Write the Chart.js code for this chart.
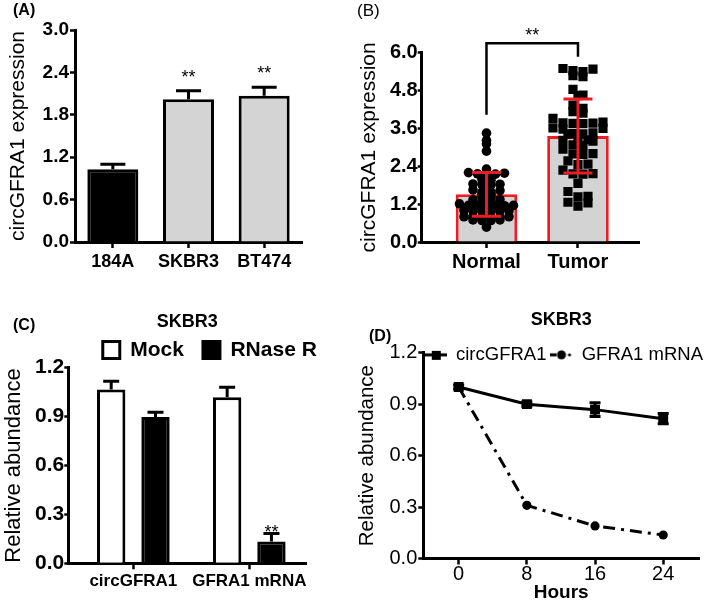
<!DOCTYPE html>
<html><head><meta charset="utf-8">
<script src="https://cdn.jsdelivr.net/npm/chart.js@4.4.0/dist/chart.umd.min.js"></script>
<style>
html,body{margin:0;padding:0;background:#fff;}
body{width:709px;height:604px;position:relative;overflow:hidden;font-family:'Liberation Sans',Arial,sans-serif;}
canvas{position:absolute;}
.lbl{position:absolute;font-size:16px;font-weight:bold;color:#000;line-height:1;white-space:nowrap;}
</style></head><body>
<canvas id="cA" width="354" height="300" style="left:0px;top:0px"></canvas>
<canvas id="cB" width="355" height="300" style="left:354px;top:0px"></canvas>
<canvas id="cC" width="354" height="304" style="left:0px;top:300px"></canvas>
<canvas id="cD" width="355" height="304" style="left:354px;top:300px"></canvas>
<div class="lbl" style="left:13px;top:2px">(A)</div>
<div class="lbl" style="left:357px;top:2px;font-weight:normal;font-size:17px">(B)</div>
<div class="lbl" style="left:13px;top:317px">(C)</div>
<div class="lbl" style="left:369px;top:328px">(D)</div>
<script>
// ---------- DATA ----------
// (A) circGFRA1 expression in cell lines
const cellLines = ['184A', 'SKBR3', 'BT474'];
const cellExpr = [1.03, 2.02, 2.07];
const cellErr = [0.07, 0.12, 0.12];
const cellSig = ['', '**', '**'];

// (B) circGFRA1 expression in tissues
const tissueGroups = ['Normal', 'Tumor'];
const tissueMean = [1.51, 3.36];
const tissueSD = [0.69, 1.17];
const normalValues = [3.45, 3.22, 3.11, 2.88, 2.31, 2.2, 2.18, 2.16, 2.15, 2.14, 1.98, 1.96,
  1.84, 1.83, 1.82, 1.81, 1.65, 1.63, 1.58, 1.58, 1.51, 1.51, 1.42, 1.42, 1.34, 1.34,
  1.27, 1.27, 1.21, 1.16, 1.16, 1.15, 1.15, 1.14, 1.14, 1.0, 0.99, 0.98, 0.98, 0.97, 0.96,
  0.8, 0.8, 0.79, 0.79, 0.78, 0.78, 0.7, 0.7, 0.68, 0.68, 0.47];
const tumorValues = [5.5, 5.48, 5.43, 5.4, 5.27, 5.24, 4.84, 4.66, 4.64, 4.34, 4.24, 4.13,
  4.08, 3.92, 3.8, 3.78, 3.77, 3.76, 3.75, 3.62, 3.6, 3.58, 3.46, 3.44, 3.43, 3.42, 3.24,
  3.23, 3.22, 3.2, 3.08, 3.06, 2.94, 2.8, 2.79, 2.78, 2.57, 2.47, 2.45, 2.28, 2.17, 2.16,
  2.15, 1.86, 1.6, 1.45, 1.43, 1.26, 1.24, 1.14];
const tissueSig = '**';

// (C) RNase R resistance, SKBR3
const rnaTargets = ['circGFRA1', 'GFRA1 mRNA'];
const mockValues = [1.067, 1.018];
const mockErr = [0.05, 0.062];
const rnaseValues = [0.898, 0.133];
const rnaseErr = [0.028, 0.05];
const rnaseSig = ['', '**'];

// (D) time course, SKBR3
const hours = [0, 8, 16, 24];
const circValues = [1.0, 0.9, 0.868, 0.815];
const circErr = [0.012, 0.012, 0.04, 0.03];
const mrnaValues = [1.0, 0.31, 0.19, 0.137];
const mrnaErr = [0, 0.01, 0.008, 0.008];

// ---------- COMMON ----------
const FONT = "'Liberation Sans', Arial, sans-serif";
Chart.defaults.font.family = FONT;
Chart.defaults.color = '#000';
Chart.defaults.animation = false;
Chart.defaults.plugins.legend.display = false;
Chart.defaults.plugins.tooltip.enabled = false;
Chart.defaults.events = [];

function yAxis(o) {
  return {
    min: o.min, max: o.max,
    afterFit: s => { s.width = o.width; },
    ticks: { stepSize: o.step, callback: v => Number(v).toFixed(1), font: o.tickFont, padding: o.tickPad, color: '#000' },
    grid: { drawOnChartArea: false, drawTicks: true, tickLength: o.tickLen, tickWidth: 2.5, tickColor: '#000', color: '#000' },
    border: { display: true, color: '#000', width: 3 },
    title: { display: true, text: o.title, font: o.titleFont, padding: { top: o.titlePad, bottom: 0 }, color: '#000' }
  };
}
function xLinear(o) {
  return {
    type: 'linear', min: o.min, max: o.max, offset: false,
    afterBuildTicks: s => { s.ticks = o.ticks.map(v => ({ value: v })); },
    afterFit: s => { s.height = o.height; },
    ticks: { callback: (v, i) => o.labels[i], font: o.tickFont, padding: o.tickPad, color: '#000', autoSkip: false, maxRotation: 0 },
    grid: { offset: false, drawOnChartArea: false, drawTicks: true, tickLength: 6, tickWidth: 2.5, tickColor: '#000', color: '#000' },
    border: { display: true, color: '#000', width: 3 },
    title: o.title ? { display: true, text: o.title, font: o.titleFont, padding: { top: 0, bottom: 0 }, color: '#000' } : { display: false }
  };
}

const errorBarPlugin = {
  id: 'errbars',
  afterDatasetsDraw(chart, args, opts) {
    const ctx = chart.ctx;
    (opts.sets || []).forEach(cfg => {
      const meta = chart.getDatasetMeta(cfg.dataset);
      const ys = chart.scales[meta.yAxisID];
      ctx.save();
      ctx.strokeStyle = cfg.color; ctx.lineWidth = cfg.lineWidth; ctx.lineCap = 'butt';
      meta.data.forEach((el, i) => {
        const v = cfg.values[i], e = cfg.errors[i];
        const x = el.x;
        const yTop = ys.getPixelForValue(v + e);
        const yBot = cfg.both ? ys.getPixelForValue(v - e) : ys.getPixelForValue(v);
        if (e) {
          ctx.beginPath();
          ctx.moveTo(x, yBot); ctx.lineTo(x, yTop);
          ctx.moveTo(x - cfg.cap / 2, yTop); ctx.lineTo(x + cfg.cap / 2, yTop);
          if (cfg.both) { ctx.moveTo(x - cfg.cap / 2, yBot); ctx.lineTo(x + cfg.cap / 2, yBot); }
          ctx.stroke();
        }
        if (cfg.marks && cfg.marks[i]) {
          ctx.fillStyle = '#000'; ctx.font = cfg.markFont; ctx.textAlign = 'center'; ctx.textBaseline = 'alphabetic';
          ctx.fillText(cfg.marks[i], x, yTop + cfg.markOffset);
        }
      });
      ctx.restore();
    });
  }
};

const bracketPlugin = {
  id: 'bracket',
  afterDatasetsDraw(chart, args, o) {
    if (!o || o.from === undefined) return;
    const ctx = chart.ctx, xs = chart.scales.x, ys = chart.scales.y;
    const x1 = xs.getPixelForValue(o.from), x2 = xs.getPixelForValue(o.to);
    const yl = ys.getPixelForValue(o.level);
    const y1 = ys.getPixelForValue(o.ends[0]), y2 = ys.getPixelForValue(o.ends[1]);
    ctx.save();
    ctx.strokeStyle = '#000'; ctx.lineWidth = 2.5; ctx.lineJoin = 'miter';
    ctx.beginPath(); ctx.moveTo(x1, y1); ctx.lineTo(x1, yl); ctx.lineTo(x2, yl); ctx.lineTo(x2, y2); ctx.stroke();
    ctx.fillStyle = '#000'; ctx.font = o.font; ctx.textAlign = 'center'; ctx.textBaseline = 'alphabetic';
    ctx.fillText(o.text, (x1 + x2) / 2, yl + o.textOffset);
    ctx.restore();
  }
};

// moves the legend box sideways and enlarges its clip box after layout
const legendShiftPlugin = {
  id: 'legendShift',
  afterLayout(chart, args, o) {
    const lg = chart.legend;
    if (!lg || !o) return;
    const dx = o.dx || 0;
    lg.left += dx; lg.right += dx;
    if (o.height) { lg.bottom = lg.top + o.height; lg.height = o.height; }
  }
};

// ---------- (A) ----------
new Chart(document.getElementById('cA'), {
  type: 'bar',
  data: {
    labels: cellLines,
    datasets: [{
      data: cellExpr,
      backgroundColor: ['#000000', '#d4d4d4', '#d4d4d4'],
      borderColor: '#000', borderWidth: 3,
      categoryPercentage: 1, barPercentage: 0.674
    }]
  },
  options: {
    responsive: false,
    layout: { padding: { top: 30, right: 52, bottom: 0, left: 0 } },
    scales: {
      x: {
        afterFit: s => { s.height = 58; },
        ticks: { font: { size: 18, weight: 'bold', lineHeight: 1 }, padding: 5, color: '#000' },
        grid: { offset: false, drawOnChartArea: false, drawTicks: true, tickLength: 6, tickWidth: 2.5, tickColor: '#000', color: '#000' },
        border: { display: true, color: '#000', width: 3 }
      },
      y: yAxis({ min: 0, max: 3, step: 0.6, width: 75, tickLen: 5, tickPad: 1,
        tickFont: { size: 19, weight: 'bold' }, title: 'circGFRA1 expression',
        titleFont: { size: 21 }, titlePad: 6 })
    },
    plugins: {
      errbars: { sets: [{ dataset: 0, values: cellExpr, errors: cellErr, both: false, color: '#000', lineWidth: 3, cap: 25,
        marks: cellSig, markFont: "18px " + FONT, markOffset: -8 }] }
    }
  },
  plugins: [errorBarPlugin]
});

// ---------- (B) ----------
// column-scatter layout: points with close values share a row and are spread sideways
function rowSwarm(values, center, xScale, yScale, rowPx, stepPx) {
  const cx = xScale.getPixelForValue(center);
  const idx = values.map((v, i) => i).sort((a, b) => values[b] - values[a]);
  const rows = [];
  let cur = null;
  for (const i of idx) {
    const py = yScale.getPixelForValue(values[i]);
    if (!cur || py - cur.y0 > rowPx) { cur = { y0: py, items: [] }; rows.push(cur); }
    cur.items.push(i);
  }
  const xs = new Array(values.length);
  rows.forEach(r => {
    const n = r.items.length;
    const slots = [];
    for (let k = 0; k < n; k++) slots.push((k - (n - 1) / 2) * stepPx);
    slots.sort((a, b) => Math.abs(b) - Math.abs(a) || a - b);
    r.items.forEach((i, k) => { xs[i] = xScale.getValueForPixel(cx + slots[k]); });
  });
  return xs;
}

const chartB = new Chart(document.getElementById('cB'), {
  type: 'bar',
  data: {
    datasets: [
      { type: 'bar', data: tissueMean.map((m, i) => ({ x: i, y: m })), backgroundColor: '#d3d3d3',
        borderColor: '#ec1c24', borderWidth: 3, categoryPercentage: 1, barPercentage: 0.673, order: 3 },
      { type: 'scatter', data: normalValues.map(v => ({ x: 0, y: v })), pointStyle: 'circle', pointRadius: 4.8,
        backgroundColor: '#000', borderWidth: 0, order: 1 },
      { type: 'scatter', data: tumorValues.map(v => ({ x: 1, y: v })), pointStyle: 'rect', pointRadius: 6.5,
        backgroundColor: '#000', borderWidth: 0, order: 1 }
    ]
  },
  options: {
    responsive: false,
    layout: { padding: { top: 52.7, right: 70, bottom: 0, left: 0 } },
    scales: {
      x: xLinear({ min: -0.708, max: 1.667, ticks: [0, 1], labels: tissueGroups, height: 58,
        tickFont: { size: 20, weight: 'bold', lineHeight: 1 }, tickPad: 4.5 }),
      y: yAxis({ min: 0, max: 6, step: 1.2, width: 67.7, tickLen: 4, tickPad: 0,
        tickFont: { size: 20, weight: 'bold' }, title: 'circGFRA1 expression',
        titleFont: { size: 21 }, titlePad: 3 })
    },
    plugins: {
      errbars: { sets: [{ dataset: 0, values: tissueMean, errors: tissueSD, both: true, color: '#ec1c24', lineWidth: 3, cap: 29 }] },
      bracket: { from: 0, to: 1, level: 6.3, ends: [4.03, 5.87], text: tissueSig, font: "18px " + FONT, textOffset: -2 }
    }
  },
  plugins: [errorBarPlugin, bracketPlugin]
});
const swN = rowSwarm(normalValues, 0, chartB.scales.x, chartB.scales.y, 2.5, 9);
const swT = rowSwarm(tumorValues, 1, chartB.scales.x, chartB.scales.y, 6, 10);
chartB.data.datasets[1].data = normalValues.map((v, i) => ({ x: swN[i], y: v }));
chartB.data.datasets[2].data = tumorValues.map((v, i) => ({ x: swT[i], y: v }));
chartB.update('none');

// ---------- (C) ----------
new Chart(document.getElementById('cC'), {
  type: 'bar',
  data: {
    datasets: [
      { label: 'Mock', data: mockValues.map((v, i) => ({ x: i, y: v })), backgroundColor: '#ffffff',
        borderColor: '#000', borderWidth: 3, categoryPercentage: 0.764, barPercentage: 0.64 },
      { label: 'RNase R', data: rnaseValues.map((v, i) => ({ x: i, y: v })), backgroundColor: '#000000',
        borderColor: '#000', borderWidth: 3, categoryPercentage: 0.764, barPercentage: 0.64 }
    ]
  },
  options: {
    responsive: false,
    layout: { padding: { top: 11, right: 48, bottom: 0, left: 0 } },
    scales: {
      x: xLinear({ min: -0.561, max: 1.489, ticks: [0, 1], labels: rnaTargets, height: 40.7,
        tickFont: { size: 17, weight: 'bold', lineHeight: 1 }, tickPad: 3.7 }),
      y: yAxis({ min: 0, max: 1.2, step: 0.3, width: 68.3, tickLen: 4, tickPad: 0,
        tickFont: { size: 21, weight: 'bold' }, title: 'Relative abundance',
        titleFont: { size: 22 }, titlePad: 1 })
    },
    plugins: {
      title: { display: true, text: 'SKBR3', fullSize: false, font: { size: 18, weight: 'bold' }, padding: { top: 0, bottom: -12 }, color: '#000' },
      legend: { display: true, position: 'top', fullSize: true, maxHeight: 47.1,
        labels: { boxWidth: 17, boxHeight: 17, padding: 19, font: { size: 21, weight: 'bold' }, color: '#000' } },
      legendShift: { dx: 56.8, height: 50 },
      errbars: { sets: [
        { dataset: 0, values: mockValues, errors: mockErr, both: false, color: '#000', lineWidth: 3, cap: 16 },
        { dataset: 1, values: rnaseValues, errors: rnaseErr, both: false, color: '#000', lineWidth: 3, cap: 16,
          marks: rnaseSig, markFont: "18px " + FONT, markOffset: 5 }
      ] }
    }
  },
  plugins: [errorBarPlugin, legendShiftPlugin]
});

// ---------- (D) ----------
function legendIcon(kind) {
  const c = document.createElement('canvas'); c.width = 22; c.height = 12;
  const g = c.getContext('2d'); g.fillStyle = '#000'; g.strokeStyle = '#000'; g.lineWidth = 3;
  if (kind === 'rect') {
    g.beginPath(); g.moveTo(0, 6); g.lineTo(22, 6); g.stroke(); g.fillRect(7, 2, 9, 9);
  } else {
    g.beginPath(); g.moveTo(0, 6); g.lineTo(6, 6); g.stroke();
    g.beginPath(); g.arc(11, 6, 4.5, 0, Math.PI * 2); g.fill();
    g.beginPath(); g.arc(19, 6, 1.6, 0, Math.PI * 2); g.fill();
  }
  return c;
}
const iconsD = [legendIcon('rect'), legendIcon('circle')];

new Chart(document.getElementById('cD'), {
  type: 'line',
  data: {
    datasets: [
      { label: 'circGFRA1', data: hours.map((h, i) => ({ x: h, y: circValues[i] })), borderColor: '#000', backgroundColor: '#000',
        borderWidth: 3, pointStyle: 'rect', pointRadius: 7, pointBorderWidth: 0, tension: 0 },
      { label: 'GFRA1 mRNA', data: hours.map((h, i) => ({ x: h, y: mrnaValues[i] })), borderColor: '#000', backgroundColor: '#000',
        borderWidth: 3, borderDash: [12, 6, 3, 6], pointStyle: 'circle', pointRadius: 4.6, pointBorderWidth: 0, tension: 0 }
    ]
  },
  options: {
    responsive: false,
    layout: { padding: { top: 9, right: 10, bottom: 0, left: 0 } },
    scales: {
      x: xLinear({ min: -4.15, max: 28.2, ticks: hours, labels: hours.map(String), height: 45.5,
        tickFont: { size: 20, lineHeight: 1 }, tickPad: 0, title: 'Hours', titleFont: { size: 19, weight: 'bold' } }),
      y: yAxis({ min: 0, max: 1.2, step: 0.3, width: 69.3, tickLen: 5, tickPad: 1,
        tickFont: { size: 20 }, title: 'Relative abundance', titleFont: { size: 20.5 }, titlePad: 1 })
    },
    plugins: {
      title: { display: true, text: 'SKBR3', fullSize: false, font: { size: 18, weight: 'bold' }, padding: { top: 0, bottom: 11 }, color: '#000' },
      legend: { display: true, position: 'top', align: 'end', fullSize: true, maxHeight: 11.1,
        labels: { usePointStyle: true, pointStyleWidth: 22, padding: 4, font: { size: 18.5 }, color: '#000',
          generateLabels: chart => chart.data.datasets.map((ds, i) => ({
            text: ds.label, pointStyle: iconsD[i], datasetIndex: i, fillStyle: '#000', strokeStyle: '#000', lineWidth: 0, hidden: false })) } },
      legendShift: { dx: 8, height: 30 },
      errbars: { sets: [
        { dataset: 0, values: circValues, errors: circErr, both: true, color: '#000', lineWidth: 3, cap: 11 },
        { dataset: 1, values: mrnaValues, errors: mrnaErr, both: true, color: '#000', lineWidth: 2, cap: 6 }
      ] }
    }
  },
  plugins: [errorBarPlugin, legendShiftPlugin]
});
</script>
</body></html>
